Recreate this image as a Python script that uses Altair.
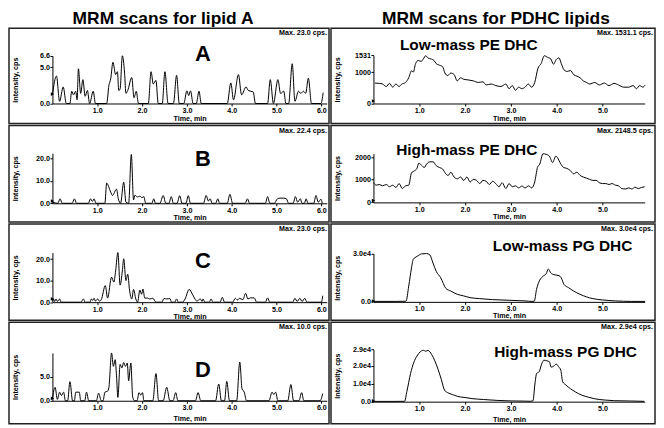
import altair as alt
import pandas as pd

FONT = "Liberation Sans"

# ---------------- text ----------------
col_titles = ["MRM scans for lipid A", "MRM scans for PDHC lipids"]
left_names = ["A", "B", "C", "D"]
right_names = ["Low-mass PE DHC", "High-mass PE DHC", "Low-mass PG DHC", "High-mass PG DHC"]
left_max = ["Max. 23.0 cps.", "Max. 22.4 cps.", "Max. 23.0 cps.", "Max. 10.0 cps."]
right_max = ["Max. 1531.1 cps.", "Max. 2148.5 cps.", "Max. 3.0e4 cps.", "Max. 2.9e4 cps."]

# ---------------- axes values ----------------
left_xticks = [1, 2, 3, 4, 5, 6]
right_xticks = [1, 2, 3, 4, 5]
left_xmax = 6.12
right_xmax = 5.92
left_ymax = [6.6, 22.4, 23.0, 10.0]
right_ymax = [1531, 2148.5, 30000, 29000]
left_yticks = [[0, 5, 6.6], [0, 10, 20], [0, 10, 20], [0, 5]]
right_yticks = [[0, 1000, 1531], [0, 1000, 2000], [0, 30000], [0, 10000, 20000, 29000]]
left_marker = [1.3, 1.0, 1.5, 0.5]
right_marker = [80, 80, 500, 400]

# ---------------- traces (time min, intensity cps) ----------------
A = [(0.00,1.2),(0.09,3.8),(0.16,0.3),(0.24,2.3),(0.31,0),(0.39,0),(0.43,1.7),(0.47,1.2),(0.52,1.7),(0.55,0.5),
     (0.58,4.8),(0.63,1.4),(0.68,3.3),(0.73,1.0),(0.78,1.8),(0.83,0),(0.91,1.7),(0.96,0),(1.21,0),(1.26,2.5),
     (1.30,3.4),(1.35,5.7),(1.41,4.0),(1.45,4.4),(1.48,1.8),(1.51,2.0),(1.56,6.6),(1.61,4.2),(1.64,1.4),(1.68,1.8),
     (1.77,3.6),(1.82,0.8),(1.87,1.7),(1.92,0),(2.14,0),(2.20,4.4),(2.25,2.7),(2.31,3.2),(2.36,0),(2.45,0),
     (2.51,4.4),(2.58,0),(2.70,0),(2.77,3.9),(2.83,0),(2.93,0),(3.00,1.75),(3.04,1.1),(3.08,1.75),(3.14,0),
     (3.21,0),(3.27,1.7),(3.32,0),(3.90,0),(3.98,2.85),(4.04,0.5),(4.15,4.0),(4.22,1.2),(4.32,2.3),(4.37,1.8),
     (4.48,1.6),(4.53,0),(4.80,0),(4.86,3.3),(4.93,0),(5.03,3.3),(5.09,1.4),(5.16,1.7),(5.21,0),(5.27,0),
     (5.35,5.5),(5.41,0.3),(5.49,1.7),(5.54,1.4),(5.60,1.7),(5.65,1.4),(5.71,3.5),(5.78,0),(5.99,0),(6.04,1.5)]

B = [(0.00,0.5),(0.12,0),(0.17,2.0),(0.22,0),(0.44,0),(0.49,2.0),(0.54,0),(0.80,0),(0.85,2.0),(0.89,0.8),
     (0.93,2.0),(0.97,0),(1.17,0),(1.21,9.0),(1.30,5.0),(1.34,3.5),(1.43,6.3),(1.47,2.0),(1.52,0),(1.59,9.4),
     (1.64,0.5),(1.70,0),(1.76,21.8),(1.81,1.5),(1.84,3.6),(1.90,2.8),(1.95,3.2),(2.00,2.5),(2.04,3.0),(2.08,0),
     (2.22,0),(2.26,2.0),(2.30,0),(2.40,0),(2.47,3.5),(2.53,0),(2.60,0),(2.65,3.0),(2.70,0),(2.78,0),
     (2.84,3.4),(2.89,0),(2.98,0),(3.03,3.4),(3.08,0),(3.37,0),(3.43,3.5),(3.48,1.0),(3.52,2.0),(3.56,0),
     (3.64,0),(3.69,2.0),(3.73,0),(3.90,0),(3.96,4.0),(4.02,0),(4.30,0),(4.35,2.0),(4.40,0),(4.75,0),
     (4.80,3.0),(4.85,0),(4.95,0),(5.02,2.0),(5.08,2.3),(5.16,2.3),(5.22,2.0),(5.27,0),(5.37,0),(5.42,3.0),
     (5.47,0.5),(5.53,2.0),(5.57,0),(5.62,0),(5.66,2.0),(5.70,0),(5.83,0),(5.88,3.5),(5.93,0.5),(5.99,1.8),(6.02,0)]

C = [(0.00,0.5),(0.02,1.5),(0.05,0.3),(0.08,1.5),(0.11,0.3),(0.16,1.5),(0.19,0),(0.64,0),(0.69,1.5),(0.73,0),
     (0.84,0),(0.87,1.5),(0.90,0.8),(0.93,1.8),(0.96,0.5),(1.01,1.5),(1.05,0.5),(1.09,1.2),(1.18,7.7),(1.23,1.9),
     (1.32,11.6),(1.37,9.3),(1.41,14.5),(1.46,23.0),(1.51,7.9),(1.56,14.5),(1.59,20.1),(1.64,10.0),(1.68,13.0),(1.72,5.6),
     (1.77,1.5),(1.81,5.9),(1.86,1.5),(1.90,0),(1.95,5.6),(1.99,3.7),(2.02,6.1),(2.06,1.9),(2.12,1.9),(2.17,1.5),
     (2.24,1.8),(2.31,0),(2.44,0),(2.49,1.7),(2.55,1.5),(2.62,1.7),(2.66,0),(2.73,0),(2.77,1.5),(2.81,0),
     (2.90,0),(2.96,1.5),(3.05,5.9),(3.13,3.4),(3.18,1.5),(3.22,0.5),(3.30,1.5),(3.34,0.3),(3.36,1.5),(3.40,0),
     (3.50,0),(3.54,1.5),(3.58,0),(3.74,0),(3.79,2.2),(3.84,0),(4.02,0),(4.08,1.8),(4.13,1.0),(4.17,1.8),
     (4.25,1.2),(4.31,4.1),(4.36,1.5),(4.42,2.0),(4.50,2.0),(4.56,0),(4.75,0),(4.80,2.0),(4.85,0),(5.36,0),
     (5.41,1.8),(5.46,0.3),(5.52,1.8),(5.57,0.3),(5.63,1.8),(5.68,0),(6.00,0),(6.03,3.0)]

D = [(0.00,0.5),(0.06,2.8),(0.11,0.3),(0.16,1.8),(0.20,1.1),(0.25,1.8),(0.29,0),(0.34,0),(0.39,4.0),(0.45,0),
     (0.49,0),(0.52,1.8),(0.60,1.8),(0.63,0),(0.72,0),(0.76,1.8),(0.81,0),(0.98,0),(1.03,1.6),(1.09,0),
     (1.13,0),(1.17,1.8),(1.23,2.0),(1.26,2.8),(1.32,10.0),(1.36,7.2),(1.40,8.6),(1.43,5.2),(1.46,0.7),(1.51,7.6),
     (1.55,6.9),(1.59,8.0),(1.63,7.2),(1.67,7.9),(1.70,4.2),(1.75,7.9),(1.79,0.8),(1.83,0),(1.89,0),(1.93,1.7),
     (1.97,1.2),(2.01,1.7),(2.04,0),(2.24,0),(2.31,5.7),(2.37,0),(2.47,0),(2.55,2.8),(2.62,0),(2.69,0),
     (2.75,1.7),(2.80,0),(3.19,0),(3.25,1.7),(3.31,0),(3.64,0),(3.71,3.5),(3.77,0),(3.84,0),(3.89,4.05),
     (3.95,0),(4.11,0),(4.18,8.1),(4.23,2.5),(4.28,1.8),(4.33,0),(4.83,0),(4.90,1.8),(4.94,1.3),(4.98,1.8),
     (5.03,0),(5.25,0),(5.32,3.4),(5.38,0),(5.50,0),(5.56,1.7),(5.61,0),(5.97,0),(6.03,1.5)]

PE_low = [(0.03,650),(0.13,640),(0.20,620),(0.28,540),(0.35,640),(0.42,520),(0.49,620),(0.56,540),(0.61,610),(0.70,670),
          (0.77,820),(0.83,1040),(0.87,1000),(0.92,1270),(0.98,1370),(1.04,1340),(1.09,1420),(1.14,1520),(1.19,1450),(1.25,1420),
          (1.32,1370),(1.37,1270),(1.44,1220),(1.51,1170),(1.56,970),(1.62,890),(1.69,970),(1.76,920),(1.83,720),(1.90,820),
          (1.97,770),(2.07,750),(2.18,720),(2.29,670),(2.39,690),(2.46,590),(2.57,620),(2.67,570),(2.78,540),(2.89,620),
          (2.96,470),(3.03,570),(3.10,420),(3.17,520),(3.24,470),(3.31,520),(3.38,620),(3.45,520),(3.52,670),(3.59,1120),
          (3.66,1270),(3.73,1520),(3.80,1470),(3.87,1420),(3.93,1250),(3.99,1400),(4.05,1450),(4.10,1270),(4.16,1070),(4.23,1020),
          (4.30,1050),(4.37,920),(4.44,870),(4.51,820),(4.58,720),(4.65,670),(4.72,620),(4.83,670),(4.93,590),(5.04,650),
          (5.14,570),(5.25,640),(5.35,590),(5.46,520),(5.57,520),(5.67,570),(5.74,470),(5.81,570),(5.88,520),(5.93,590)]

PE_high = [(0.00,870),(0.06,760),(0.13,790),(0.20,730),(0.28,790),(0.35,690),(0.42,760),(0.49,660),(0.56,830),(0.63,610),
           (0.70,730),(0.77,760),(0.83,1300),(0.90,1400),(0.95,1500),(0.99,1730),(1.05,1640),(1.11,1540),(1.16,1690),(1.23,1790),
           (1.30,1790),(1.37,1620),(1.44,1540),(1.51,1470),(1.58,1260),(1.63,1190),(1.69,1330),(1.76,1120),(1.83,1040),(1.90,1120),
           (1.97,970),(2.04,1120),(2.11,900),(2.18,1015),(2.25,970),(2.32,830),(2.39,970),(2.46,930),(2.53,790),(2.60,930),
           (2.67,830),(2.74,690),(2.81,870),(2.89,610),(2.96,830),(3.03,690),(3.10,730),(3.17,640),(3.24,720),(3.31,640),
           (3.39,730),(3.45,640),(3.52,900),(3.58,1540),(3.63,1690),(3.70,2145),(3.77,2120),(3.84,2040),(3.91,1760),(3.98,2040),
           (4.03,1930),(4.08,1730),(4.15,1540),(4.22,1500),(4.30,1400),(4.37,1260),(4.44,1330),(4.51,1190),(4.58,1120),(4.65,1070),
           (4.72,1015),(4.79,970),(4.86,970),(4.93,870),(5.00,830),(5.07,830),(5.14,790),(5.21,830),(5.28,760),(5.35,730),
           (5.42,610),(5.50,590),(5.57,640),(5.64,590),(5.71,670),(5.78,610),(5.85,660),(5.92,690)]

PG_low = [(0.00,300),(0.49,300),(0.71,400),(0.77,9800),(0.83,21000),(0.87,26500),(0.95,28200),(1.05,29800),(1.16,30000),(1.23,29200),
          (1.30,24100),(1.37,19000),(1.47,14900),(1.58,8400),(1.69,6700),(1.83,4700),(1.97,3700),(2.11,2650),(2.32,2000),(2.60,1400),
          (2.96,1000),(3.31,600),(3.46,300),(3.51,400),(3.56,7800),(3.63,13500),(3.70,15900),(3.77,17500),(3.82,20400),(3.87,18000),
          (3.94,16900),(4.05,16300),(4.10,14900),(4.16,10800),(4.26,8800),(4.37,6700),(4.51,4700),(4.65,3100),(4.79,2000),(5.00,1200),
          (5.28,600),(5.64,300),(5.93,300)]

PG_high = [(0.00,150),(0.45,150),(0.68,200),(0.73,5700),(0.81,15600),(0.88,21800),(0.95,25400),(1.02,27700),(1.09,28600),(1.14,28100),
           (1.19,28500),(1.27,26300),(1.34,22700),(1.41,18000),(1.48,12500),(1.55,6500),(1.62,5000),(1.72,4000),(1.83,3000),(1.90,2600),
           (2.00,2300),(2.15,1700),(2.40,1200),(2.70,700),(3.00,400),(3.30,300),(3.42,200),(3.48,400),(3.53,11100),(3.56,15600),
           (3.62,16800),(3.67,20900),(3.72,23100),(3.79,22700),(3.84,22200),(3.88,19200),(3.93,19700),(3.99,20900),(4.04,19500),(4.09,17400),
           (4.13,11100),(4.20,9300),(4.30,7200),(4.41,5400),(4.55,3600),(4.69,2500),(4.83,1600),(5.05,900),(5.26,540),(5.61,360),(5.91,180)]

left_traces = [A, B, C, D]
right_traces = [PE_low, PE_high, PG_low, PG_high]

# ---------------- layout (pixels, panel-local) ----------------
W_L, W_R = 322, 326
ROW_H = [96, 97, 97, 102]
XR_L = [43.7, 43.7 + left_xmax * 45.1]
XR_R = [42.7, 42.7 + right_xmax * 46.1]
YR_L = [[75.8, 27.8], [78.2, 27.8], [78.7, 28.8], [78.9, 30.8]]
YR_R = [[75.8, 27.4], [77.3, 28.3], [78.4, 29.8], [79.8, 27.4]]
XTITLE_DY = [15.4, 14.5, 14.0, 17.5]
NAME_L = [(195, 26), (195, 33.6), (195, 37.4), (195, 48.1)]
NAME_R = [(138.6, 16.8), (136.6, 25.0), (233, 22.0), (236, 29.8)]
SMALL = 7.2

LBL_LEFT = "format(datum.value, '.1f')"
LBL_PE = "format(datum.value, 'd')"
LBL_PG = "datum.value == 0 ? '0.0' : format(datum.value / 10000, '.1f') + 'e4'"
right_lbl = [LBL_PE, LBL_PE, LBL_PG, LBL_PG]


def panel(trace, w, h, xmax, xr, xticks, ymax, yr, yticks, ylab, xt_dy,
          max_txt, name, name_xy, name_size, marker_v):
    df = pd.DataFrame(trace, columns=["t", "v"])
    xenc = alt.X("t:Q",
                 scale=alt.Scale(domain=[0, xmax], range=xr, nice=False, zero=False),
                 axis=alt.Axis(values=xticks, format=".1f", title="Time, min",
                               offset=-(h - yr[0]), titleX=(xr[0] + xr[1]) / 2,
                               titleY=xt_dy, titleBaseline="middle", titleAlign="center",
                               labelFlush=False, labelOverlap=False))
    yenc = alt.Y("v:Q",
                 scale=alt.Scale(domain=[0, ymax], range=yr, nice=False),
                 axis=alt.Axis(values=yticks, labelExpr=ylab, title="Intensity, cps",
                               offset=-xr[0], titleX=6.8 - xr[0], titleY=(yr[0] + yr[1]) / 2,
                               titleBaseline="middle", titleAlign="center", titleAngle=270,
                               labelFlush=False, labelOverlap=False))
    line = alt.Chart(df).mark_line(color="black", strokeWidth=1.0,
                                   interpolate="monotone").encode(x=xenc, y=yenc)
    mk = alt.Chart(pd.DataFrame({"t": [0.0], "v": [marker_v]})).mark_point(
        shape="triangle-right", filled=True, color="black", size=14, opacity=1
    ).encode(x=xenc, y=yenc)
    mx = alt.Chart(pd.DataFrame({"s": [max_txt]})).mark_text(
        align="right", baseline="middle", fontSize=SMALL, fontWeight="bold", font=FONT,
        color="black", fill="black"
    ).encode(x=alt.value(w - 2), y=alt.value(5), text="s:N")
    nm = alt.Chart(pd.DataFrame({"s": [name]})).mark_text(
        align="center", baseline="middle", fontSize=name_size, fontWeight="bold",
        font=FONT, color="black", fill="black"
    ).encode(x=alt.value(name_xy[0]), y=alt.value(name_xy[1]), text="s:N")
    return alt.layer(line, mk, mx, nm).properties(width=w, height=h)


left_panels = [
    panel(left_traces[i], W_L, ROW_H[i], left_xmax, XR_L, left_xticks, left_ymax[i], YR_L[i],
          left_yticks[i], LBL_LEFT, XTITLE_DY[i], left_max[i], left_names[i], NAME_L[i], 22,
          left_marker[i])
    for i in range(4)
]
right_panels = [
    panel(right_traces[i], W_R, ROW_H[i], right_xmax, XR_R, right_xticks, right_ymax[i], YR_R[i],
          right_yticks[i], right_lbl[i], XTITLE_DY[i], right_max[i], right_names[i], NAME_R[i], 15.5,
          right_marker[i])
    for i in range(4)
]

left_col = alt.vconcat(*left_panels, spacing=0).properties(
    title=alt.TitleParams(col_titles[0], anchor="middle", dx=-6, offset=0,
                          fontSize=17.5, fontWeight="bold", font=FONT, color="black"))
right_col = alt.vconcat(*right_panels, spacing=0).properties(
    title=alt.TitleParams(col_titles[1], anchor="middle", dx=3, offset=0,
                          fontSize=17.5, fontWeight="bold", font=FONT, color="black"))

chart = alt.hconcat(left_col, right_col, spacing=0).properties(
    padding=0, background="white"
).configure_view(
    stroke="#222222", strokeWidth=1.5
).configure_axis(
    grid=False, domainColor="black", domainWidth=1, tickColor="black", tickSize=2.5,
    tickWidth=1, labelFont=FONT, labelFontSize=SMALL, labelFontWeight="bold",
    labelColor="black", labelPadding=0.5,
    titleFont=FONT, titleFontSize=SMALL, titleFontWeight="bold", titleColor="black"
).configure_concat(spacing=0)

chart.save("out.html", embed_options={"renderer": "svg", "actions": False})
